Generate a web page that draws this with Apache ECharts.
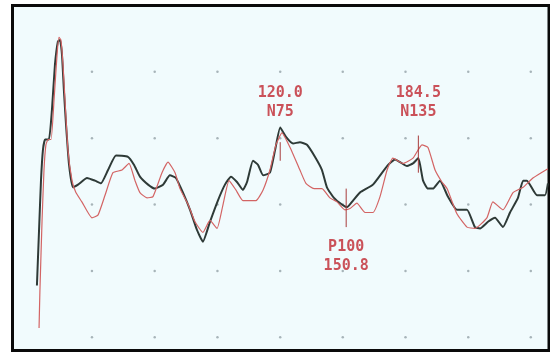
<!DOCTYPE html>
<html><head><meta charset="utf-8">
<script src="https://cdn.jsdelivr.net/npm/echarts@6/dist/echarts.min.js"></script>
<style>html,body{margin:0;padding:0;background:#fff}#c{width:550px;height:354px}</style>
</head><body><div id="c"></div>
<script>
// Time base in ms, amplitude in µV (5 µV per grid division)
const blackTimeMs = [6.4,7.4,8.3,9.2,10.2,12.0,13.4,14.8,16.2,17.2,18.1,19.0,20.0,21.4,23.2,25.6,29.8,33.5,36.3,39.6,43.3,48.9,51.7,54.5,58.3,61.5,65.3,68.5,71.3,74.6,77.9,81.1,83.9,87.2,90.9,94.2,97.0,99.8,102.6,104.5,107.3,109.6,112.0,115.2,117.6,120.0,122.7,126.0,129.2,132.5,136.2,139.5,141.8,145.1,148.8,151.2,154.0,157.2,163.3,169.9,173.6,175.9,179.2,182.0,184.5,186.7,189.0,191.3,194.6,198.3,202.5,207.2,210.9,213.3,217.0,220.3,224.0,227.3,231.0,233.4,235.2,239.9,243.6,245.0];
const blackUv = [-6.1,-1.9,1.8,4.1,4.9,4.9,7.1,10.5,12.3,12.4,11.3,8.6,6.0,3.0,1.3,1.5,2.0,1.8,1.6,2.6,3.7,3.6,3.0,2.1,1.5,1.2,1.5,2.2,2.0,0.9,-0.4,-1.9,-2.8,-1.3,0.3,1.5,2.1,1.7,1.1,1.7,3.3,3.0,2.2,2.4,4.1,5.8,5.1,4.6,4.7,4.5,3.6,2.6,1.3,0.5,0.0,-0.2,0.3,0.9,1.5,2.9,3.4,3.2,2.9,3.1,3.5,1.8,1.2,1.2,1.8,0.6,-0.4,-0.4,-1.7,-1.8,-1.3,-1.0,-1.7,-0.6,0.5,1.8,1.8,0.7,0.7,1.6];
const redTimeMs = [7.4,7.8,8.8,9.7,10.6,11.6,13.0,14.4,15.8,16.7,17.6,18.6,19.5,20.9,22.8,24.6,27.4,32.1,34.9,38.2,41.9,46.1,49.4,52.2,54.5,57.8,60.6,64.8,67.6,70.9,73.2,77.0,80.2,83.9,87.2,90.5,93.3,96.1,99.3,102.6,108.7,112.0,115.2,118.0,120.8,124.6,129.2,132.0,135.8,139.5,143.2,146.5,150.2,152.6,155.8,159.6,163.3,166.6,169.9,172.6,177.3,182.0,186.2,189.0,192.3,195.5,197.9,202.5,207.2,210.9,216.5,219.3,224.0,228.7,233.4,238.0,245.0];
const redUv = [-9.3,-6.5,-1.2,2.6,4.5,4.9,4.9,7.9,11.3,12.6,12.4,10.5,7.9,4.1,1.8,0.9,0.2,-1.0,-0.8,0.7,2.4,2.6,3.1,1.8,0.9,0.5,0.6,2.4,3.2,2.4,1.2,0.0,-1.3,-2.1,-1.2,-1.8,0.0,1.8,1.1,0.3,0.3,1.1,2.6,4.5,5.4,4.3,2.6,1.6,1.2,1.2,0.5,0.2,-0.4,-0.3,0.1,-0.6,-0.6,0.6,2.6,3.5,3.1,3.5,4.5,4.3,2.6,1.7,1.2,-0.7,-1.7,-1.8,-1.0,0.2,-0.4,0.9,1.3,2.0,2.7];
// Peak markers
const markerNames = ['N75','P100','N135'];
const markerLatencyMs = [120.0, 150.8, 184.5];
const markerTickTopUv = [4.7, 1.2, 5.2];
const markerTickBottomUv = [3.3, -1.7, 2.4];
// Grid dot positions
const dotColsMs = [32.1, 61.4, 90.7, 120.0, 149.2, 178.5, 207.8, 237.0];
const dotRowsUv = [10, 5, 0, -5, -10];

const zip = (a, b) => a.map((v, i) => [v, b[i]]);
const dots = [];
dotColsMs.forEach(x => dotRowsUv.forEach(y => dots.push([x, y])));

const labelColor = '#c0272f';
const tickSeries = markerNames.map((n, i) => ({
  type: 'line', silent: true, symbol: 'none', z: 4,
  lineStyle: { color: '#a83c3c', width: 1 },
  data: [[markerLatencyMs[i], markerTickTopUv[i]], [markerLatencyMs[i], markerTickBottomUv[i]]]
}));
const labelData = markerNames.map((n, i) => {
  const below = n.charAt(0) === 'P';
  return {
    value: [markerLatencyMs[i], below ? markerTickBottomUv[i] : markerTickTopUv[i]],
    label: {
      position: below ? 'bottom' : 'top',
      distance: below ? 10 : (n === 'N75' ? 20 : 13),
      formatter: below ? n + '\n' + markerLatencyMs[i].toFixed(1) : markerLatencyMs[i].toFixed(1) + '\n' + n
    }
  };
});

const chart = echarts.init(document.getElementById('c'), null, { renderer: 'canvas' });
chart.setOption({
  animation: false,
  backgroundColor: '#ffffff',
  grid: { left: 12.5, right: 1, top: 5.5, bottom: 3.5, show: true,
          backgroundColor: '#f1fbfd', borderColor: '#0a0a0a', borderWidth: 3 },
  xAxis: { type: 'value', min: -5, max: 245.5, show: false },
  yAxis: { type: 'value', min: -11, max: 15, show: false },
  series: [
    { type: 'scatter', silent: true, symbolSize: 2.5, z: 1,
      itemStyle: { color: '#95a2a8' }, data: dots },
    { type: 'line', name: 'trace1', symbol: 'none', smooth: 0.15, z: 2,
      lineStyle: { color: '#2e3a37', width: 2 }, data: zip(blackTimeMs, blackUv) },
    { type: 'line', name: 'trace2', symbol: 'none', smooth: 0.15, z: 3,
      lineStyle: { color: '#d36464', width: 1.2 }, data: zip(redTimeMs, redUv) },
    ...tickSeries,
    { type: 'scatter', silent: true, symbolSize: 1, z: 5,
      itemStyle: { color: 'rgba(0,0,0,0)' },
      label: { show: true, color: labelColor, fontFamily: 'DejaVu Sans Mono', fontWeight: 'bold',
               fontSize: 15, lineHeight: 19, align: 'center' },
      data: labelData }
  ]
});
</script>
</body></html>
